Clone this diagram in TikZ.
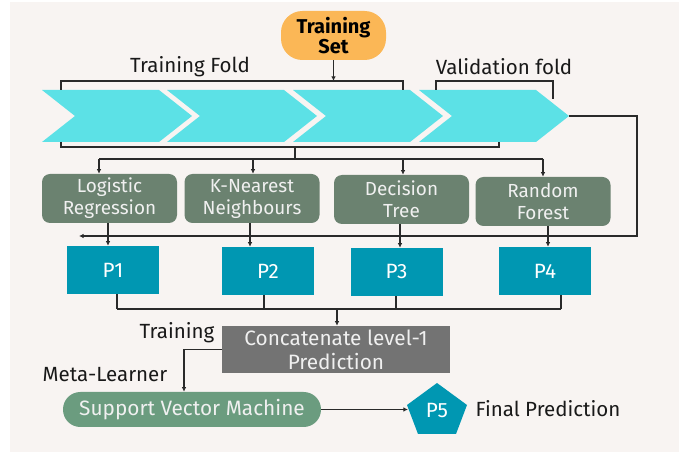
\documentclass[tikz,border=0pt]{standalone}
\usepackage{fontspec}
\setmainfont{Fira Sans}
\usetikzlibrary{arrows.meta,calc}
\definecolor{bgc}{HTML}{F8F4F2}
\definecolor{chev}{HTML}{5CE1E6}
\definecolor{modc}{HTML}{6B8270}
\definecolor{pc}{HTML}{0097B2}
\definecolor{catc}{HTML}{737373}
\definecolor{svmc}{HTML}{6B9C7F}
\definecolor{orc}{HTML}{FBB756}
\definecolor{lnc}{HTML}{2A2A2A}
\begin{document}
\begin{tikzpicture}[x=0.75pt,y=-0.75pt,
  ln/.style={draw=lnc,line width=0.8pt},
  arr/.style={ln,-{Latex[length=3.5pt,width=3.5pt]}},
  chevron/.style={fill=chev,draw=none},
  model/.style={fill=modc,rounded corners=6pt,minimum width=101.25pt,minimum height=36.75pt,text=white!94!black,align=center,font=\fontsize{14.2}{16.5}\selectfont,inner sep=0pt},
  pbox/.style={fill=pc,minimum width=69pt,minimum height=36pt,text=white,font=\fontsize{15.5}{16}\selectfont,inner sep=0pt},
  lbl/.style={text=black!90,font=\fontsize{15.4}{17}\selectfont,inner sep=0pt}
]
\useasboundingbox (0,0) rectangle (679,452);
\fill[white] (0,0) rectangle (679,452);
\fill[bgc] (10,2) rectangle (679,452);

% chevrons
\foreach \x in {42,167,293,419}{
  \fill[chevron] (\x,90) -- ++(117,0) -- ++(33,26) -- ++(-33,26) -- ++(-117,0) -- ++(33,-26) -- cycle;
}
\coordinate (vtip) at (569,116);

% training set
\node[fill=orc,rounded corners=16pt,minimum width=78.75pt,minimum height=36.75pt,align=center,
  font=\fontsize{15}{15.5}\selectfont\bfseries,inner sep=0pt] (ts) at (333.5,35.5) {Training\\Set};

% brackets
\coordinate (tfb) at (333.5,81);
\draw[ln] (61,90) -- (61,81) -- (403,81) -- (403,90);
\draw[arr] (ts.south) -- (tfb);
\draw[ln] (436,90) -- (436,81) -- (553,81) -- (553,99);
\draw[ln] (61,142) -- (61,147) -- (499,147) -- (499,142);
\node[lbl] (tfl) at (190,67) {Training Fold};
\node[lbl] (vfl) at (504,67) {Validation fold};

% models
\node[model] (lr)  at (109.5,198.5) {Logistic\\Regression};
\node[model] (knn) at (252,198.5) {K-Nearest\\Neighbours};
\node[model] (dt)  at (401.5,199.5) {Decision\\Tree};
\node[model] (rf)  at (543,201.5) {Random\\Forest};

\coordinate (bb) at (295,147);
\coordinate (dist) at (295,159);
\coordinate (d1) at (99,159);
\coordinate (d2) at (253,159);
\coordinate (d3) at (403,159);
\coordinate (d4) at (543,159);
\draw[ln] (bb) -- (dist);
\draw[ln] (d1) -- (d4);
\draw[arr] (d1) -- (d1 |- lr.north);
\draw[arr] (d2) -- (d2 |- knn.north);
\draw[arr] (d3) -- (d3 |- dt.north);
\draw[arr] (d4) -- (d4 |- rf.north);

% P boxes
\node[pbox] (p1) at (113,270) {P1};
\node[pbox] (p2) at (268,271) {P2};
\node[pbox] (p3) at (396.5,272) {P3};
\node[pbox] (p4) at (545,271) {P4};

\coordinate (m1) at (108,0);
\coordinate (m2) at (250,0);
\coordinate (m3) at (400,0);
\coordinate (m4) at (548,0);
\draw[arr] (m1 |- lr.south) -- (m1 |- p1.north);
\draw[arr] (m2 |- knn.south) -- (m2 |- p2.north);
\draw[arr] (m3 |- dt.south) -- (m3 |- p3.north);
\draw[arr] (m4 |- rf.south) -- (m4 |- p4.north);

% feedback
\coordinate (fb1) at (637,116);
\coordinate (fb2) at (637,236);
\coordinate (fbe) at (79,236);
\draw[arr] (vtip) -- (fb1) -- (fb2) -- (fbe);

% merge
\node[fill=catc,minimum width=171pt,minimum height=35.25pt,text=white!94!black,align=center,
  font=\fontsize{15.6}{18}\selectfont,inner sep=0pt] (cat) at (336,349.5) {Concatenate level-1\\Prediction};
\coordinate (q1) at (117,309);
\coordinate (q2) at (264,309);
\coordinate (q3) at (396,309);
\coordinate (q4) at (561,309);
\coordinate (qc) at (337,309);
\draw[ln] (q1 |- p1.south) -- (q1);
\draw[ln] (q2 |- p2.south) -- (q2);
\draw[ln] (q3 |- p3.south) -- (q3);
\draw[ln] (q4 |- p4.south) -- (q4);
\draw[ln] (q1) -- (q4);
\draw[arr] (qc) -- (qc |- cat.north);

\node[lbl] (trl) at (177,333) {Training};
\node[lbl] (mll) at (105,375) {Meta-Learner};

% SVM
\node[fill=svmc,rounded corners=13pt,minimum width=193.5pt,minimum height=26.25pt,text=white!94!black,
  font=\fontsize{15.6}{17}\selectfont,inner sep=0pt] (svm) at (192,409.5) {Support Vector Machine};
\coordinate (cw) at (184,349.5);
\draw[arr] (cat.west) -- (cw) -- (cw |- svm.north);

% P5
\fill[pc] (437,383) -- (467,405) -- (456,434) -- (418,434) -- (407,405) -- cycle;
\node[text=white,font=\fontsize{15.5}{16}\selectfont,inner sep=0pt] (p5) at (437,411) {P5};
\coordinate (p5w) at (408,409.5);
\draw[arr] (svm.east) -- (p5w);
\node[lbl] (fpl) at (548,409) {Final Prediction};
\end{tikzpicture}
\end{document}
